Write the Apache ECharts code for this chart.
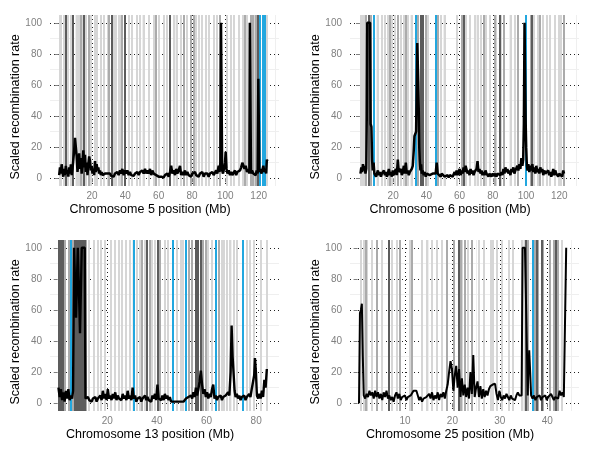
<!DOCTYPE html>
<html>
<head>
<meta charset="utf-8">
<script src="https://cdn.jsdelivr.net/npm/echarts@6/dist/echarts.min.js"></script>
<style>
  html, body { margin: 0; padding: 0; background: #fff; }
  #chart { width: 600px; height: 450px; }
</style>
</head>
<body>
<div id="chart"></div>
<script>
const rateTicks = [0, 20, 40, 60, 80, 100];
const rateMinor = [10, 30, 50, 70, 90];
const yTitle = 'Scaled recombination rate';

// chromosome 5
const chr5Ticks = [20, 40, 60, 80, 100, 120];
const chr5Rate = [
  [0.3, 2], [0.8, 7], [1.3, 3], [1.8, 9], [2.3, 4], [2.8, 1], [3.3, 6], [3.8, 2], [4.3, 8], [4.8, 3],
  [5.3, 5], [5.8, 1], [6.3, 7], [6.8, 3], [7.3, 9], [7.8, 2], [8.3, 6], [8.8, 12], [9.3, 18], [9.8, 26],
  [10.3, 25], [10.8, 14], [11.3, 4], [11.8, 10], [12.3, 16], [12.8, 6], [13.3, 13], [13.8, 3], [14.3, 9], [14.8, 18],
  [15.3, 7], [15.8, 15], [16.3, 4], [16.8, 10], [17.3, 2], [17.8, 9], [18.3, 14], [18.8, 11], [19.3, 5], [19.8, 8],
  [20.3, 3], [20.8, 6], [21.3, 2], [21.8, 11], [22.3, 4], [22.8, 9], [23.3, 5], [23.8, 7], [24.3, 3], [24.8, 5],
  [25.3, 2], [25.8, 4], [26.3, 2], [26.8, 3], [27.3, 1], [27.8, 3], [28.5, 2], [29.2, 3], [30, 2], [30.8, 3],
  [31.5, 1.5], [32.2, 2.5], [33, 1], [33.8, 3], [34.5, 2], [35.2, 4], [36, 2], [36.8, 5], [37.5, 3], [38.2, 6],
  [39, 2], [39.8, 5], [40.5, 3], [41.2, 5], [42, 2], [42.8, 4], [43.5, 2], [44.2, 3], [45, 1.5], [45.8, 3],
  [46.5, 2], [47.2, 4], [48, 2], [48.8, 4], [49.5, 3], [50.2, 5], [51, 3], [51.8, 6], [52.5, 3], [53.2, 5],
  [54, 3], [54.8, 6], [55.5, 2], [56.2, 5], [57, 3], [57.8, 4], [58.5, 2], [59.2, 3], [60, 1], [60.8, 2],
  [61.5, 1], [62.2, 2], [63, 0.5], [63.8, 2], [64.5, 1], [65.2, 3], [66, 1], [66.8, 4], [67.5, 8], [68.2, 3],
  [69, 5], [69.8, 2], [70.5, 6], [71.2, 3], [72, 5], [72.8, 8], [73.5, 2], [74.2, 4], [75, 2], [75.8, 5],
  [76.5, 2], [77.2, 4], [78, 2], [78.8, 3], [79.5, 1], [80.2, 3], [81, 2], [81.8, 4], [82.5, 2], [83.2, 3],
  [84, 1], [84.8, 3], [85.5, 2], [86.2, 4], [87, 1], [87.8, 3], [88.5, 2], [89.2, 3], [90, 1], [90.8, 3],
  [91.5, 2], [92.2, 4], [93, 2], [93.8, 3], [94.5, 5], [95.2, 3], [96, 8], [96.5, 4], [97, 10], [97.4, 100],
  [97.8, 100], [98.1, 5], [98.6, 3], [99.2, 6], [99.8, 10], [100.2, 17], [100.7, 6], [101.3, 3], [102, 5], [102.8, 2],
  [103.5, 4], [104.2, 2], [105, 3], [105.8, 5], [106.5, 2], [107.2, 4], [108, 3], [108.8, 5], [109.5, 7], [110.2, 10],
  [110.8, 9], [111.5, 6], [112.2, 8], [113, 4], [113.8, 6], [114.4, 3], [114.7, 100], [115.1, 100], [115.4, 3], [116, 5],
  [116.8, 3], [117.5, 4], [118.2, 2], [118.8, 5], [119.4, 3], [119.8, 64], [120.1, 64], [120.4, 4], [121, 6], [121.6, 3],
  [122.2, 5], [122.8, 8], [123.4, 4], [124, 6], [124.5, 3], [124.9, 12], [125.2, 11]
];
const chr5Light = [0.5, 1.5, 2.8, 5.5, 7, 11, 12, 13, 14, 16, 19, 21.5, 23, 25.5, 27, 29.5, 33, 34.5, 36, 37.5,
  42, 44, 47, 48.5, 51, 54, 57, 60, 63, 65, 69, 71, 73, 77, 82, 84, 86, 88, 90, 93, 95, 101, 103, 105, 108,
  110.5, 113, 117, 118, 125];
const chr5Mid = [4.5, 13.5, 17.8, 30, 38, 58, 75, 79.5, 81, 96.5, 111.5, 115.5, 116.5, 118.5];
const chr5Dark = [4, 8.4, 14.8, 31.8, 39.8, 66.8, 119.5];
const chr5Blue = [120.4, 122.3, 123.8];

// chromosome 6
const chr6Ticks = [20, 40, 60, 80, 100, 120];
const chr6Rate = [
  [0.3, 3], [0.8, 7], [1.3, 4], [1.8, 9], [2.3, 5], [2.8, 8], [3.3, 3], [3.8, 6], [4.1, 40], [4.4, 100],
  [5, 100], [5.6, 100], [6.1, 100], [6.4, 35], [6.9, 33], [7.3, 12], [7.7, 5], [8.2, 10], [8.7, 3], [9.2, 4],
  [9.7, 1], [10.2, 3], [10.8, 5], [11.4, 2], [12, 4], [12.6, 1], [13.2, 3], [13.8, 2], [14.4, 5], [15, 2],
  [15.6, 4], [16.2, 1], [16.8, 3], [17.4, 6], [18, 2], [18.6, 4], [19.2, 1], [19.8, 5], [20.4, 2], [21, 3],
  [21.6, 6], [22.2, 2], [22.8, 12], [23.4, 4], [24, 3], [24.6, 6], [25.2, 2], [25.8, 4], [26.4, 8], [27, 3],
  [27.6, 10], [28.2, 3], [28.8, 5], [29.4, 2], [30, 4], [30.6, 3], [31.2, 6], [31.8, 8], [32.4, 18], [32.8, 27],
  [33.3, 28], [33.8, 30], [34.2, 60], [34.5, 87], [34.8, 86], [35.1, 62], [35.4, 45], [35.7, 20], [36, 12], [36.4, 5],
  [36.8, 9], [37.2, 3], [37.8, 5], [38.4, 2], [39, 4], [39.6, 1], [40.2, 3], [40.8, 2], [41.4, 4], [42, 2],
  [42.6, 3], [43.2, 1], [43.8, 3], [44.4, 2], [45, 4], [45.6, 3], [46.2, 10], [46.8, 3], [47.4, 2], [48, 4],
  [48.6, 1], [49.2, 3], [49.8, 2], [50.4, 2], [51, 1], [51.6, 2], [52.2, 1], [52.8, 2], [53.4, 0.5], [54, 2],
  [54.6, 1], [55.2, 3], [55.8, 1], [56.4, 2], [57, 4], [57.6, 2], [58.2, 5], [58.8, 2], [59.4, 4], [60, 6],
  [60.6, 2], [61.2, 5], [61.8, 3], [62.4, 7], [63, 4], [63.6, 8], [64.2, 7], [64.8, 3], [65.4, 5], [66, 2],
  [66.6, 6], [67.2, 3], [67.8, 5], [68.4, 2], [69, 4], [69.6, 3], [70.2, 6], [70.8, 11], [71.4, 4], [72, 6],
  [72.6, 3], [73.2, 5], [73.8, 2], [74.4, 4], [75, 2], [75.6, 5], [76.2, 3], [76.8, 2], [77.4, 1], [78, 3],
  [78.6, 2], [79.2, 1], [79.8, 3], [80.4, 2], [81, 1.5], [81.6, 3], [82.2, 1], [82.8, 3], [83.4, 2], [84, 4],
  [84.6, 2], [85.2, 4], [85.8, 2], [86.4, 6], [87, 3], [87.6, 7], [88.2, 4], [88.8, 6], [89.4, 3], [90, 5],
  [90.6, 2], [91.2, 6], [91.8, 4], [92.4, 7], [93, 3], [93.6, 5], [94.2, 4], [94.8, 8], [95.4, 5], [96, 9],
  [96.6, 6], [97.2, 13], [97.8, 8], [98.3, 12], [98.7, 35], [99.1, 100], [99.5, 100], [99.8, 35], [100.1, 20], [100.5, 8],
  [100.9, 5], [101.4, 9], [102, 4], [102.6, 8], [103.2, 5], [103.8, 9], [104.4, 4], [105, 7], [105.6, 3], [106.2, 8],
  [106.8, 4], [107.4, 6], [108, 3], [108.6, 7], [109.2, 4], [109.8, 6], [110.4, 2], [111, 5], [111.6, 3], [112.2, 4],
  [112.8, 2], [113.4, 5], [114, 2], [114.6, 4], [115.2, 1], [115.8, 3], [116.4, 6], [117, 2], [117.6, 5], [118.2, 3],
  [118.8, 4], [119.4, 1], [120, 3], [120.6, 2], [121.2, 4], [121.8, 1], [122.4, 5], [122.9, 3]
];
const chr6Light = [0.5, 1.5, 2.5, 11, 13, 15, 16.5, 19, 21, 24.5, 26.5, 28.5, 31, 41, 48.5, 51, 58, 63.5, 66,
  69, 71, 73, 76, 78, 82, 85, 91, 93, 104.5, 107, 110, 112.5, 114, 117, 119.5, 121];
const chr6Mid = [3.5, 6.5, 18, 22.5, 27.5, 35, 39.5, 47, 61, 74.5, 81, 86.4, 95, 103, 108.5, 122.5];
const chr6Dark = [5, 36.5, 37.5, 38, 62.5, 84, 103.5];
const chr6Blue = [8.5, 33.5, 45.8, 100.1];

// chromosome 13
const chr13Ticks = [20, 40, 60, 80];
const chr13Rate = [
  [0.3, 10], [0.8, 4], [1.3, 9], [1.8, 2], [2.3, 7], [2.8, 1], [3.3, 8], [3.8, 3], [4.3, 9], [4.8, 2],
  [5.3, 5], [5.8, 3], [6.2, 8], [6.6, 100], [7.1, 100], [7.4, 55], [7.8, 55], [8.1, 100], [8.7, 100], [9, 45],
  [9.4, 45], [9.7, 100], [10.3, 100], [10.9, 100], [11.2, 3], [11.7, 2], [12.2, 4], [12.7, 2], [13.2, 3], [13.7, 1],
  [14.2, 3], [14.7, 2], [15.2, 4], [15.7, 1], [16.2, 3], [16.7, 2], [17.2, 5], [17.7, 2], [18.2, 8], [18.7, 3],
  [19.2, 6], [19.7, 2], [20.2, 9], [20.7, 3], [21.2, 5], [21.7, 2], [22.2, 6], [22.7, 3], [23.2, 7], [23.7, 2],
  [24.2, 5], [24.7, 3], [25.2, 4], [25.7, 2], [26.2, 6], [26.7, 3], [27.2, 5], [27.7, 2], [28.2, 8], [28.7, 3],
  [29.2, 5], [29.7, 2], [30.2, 10], [30.7, 3], [31.2, 5], [31.7, 1], [32.2, 3], [32.7, 2], [33.2, 4], [33.7, 1],
  [34.2, 3], [34.7, 2], [35.2, 5], [35.7, 2], [36.2, 4], [36.7, 2], [37.2, 3], [37.7, 1], [38.2, 5], [38.7, 3],
  [39.2, 6], [39.7, 2], [40.2, 12], [40.7, 3], [41.2, 4], [41.7, 2], [42.2, 5], [42.7, 2], [43.2, 6], [43.7, 3],
  [44.2, 5], [44.7, 2], [45.2, 4], [45.7, 1], [46.2, 2], [46.7, 1], [47.2, 2], [47.7, 1], [48.2, 1.5], [48.7, 1],
  [49.2, 2], [49.7, 1], [50.2, 2], [50.7, 1], [51.2, 2], [51.7, 3], [52.2, 2], [52.7, 4], [53.2, 3], [53.7, 5],
  [54.2, 3], [54.7, 7], [55.2, 4], [55.7, 10], [56.2, 5], [56.7, 9], [57.2, 14], [57.7, 21], [58.2, 12], [58.7, 6],
  [59.2, 9], [59.7, 4], [60.2, 7], [60.7, 3], [61.2, 6], [61.7, 4], [62.2, 9], [62.7, 12], [63.2, 3], [63.7, 5],
  [64.2, 2], [64.7, 4], [65.2, 3], [65.7, 5], [66.2, 2], [66.7, 4], [67.2, 3], [67.7, 5], [68.2, 4], [68.7, 7],
  [69.2, 5], [69.7, 20], [70.1, 50], [70.5, 30], [70.9, 29], [71.3, 8], [71.7, 4], [72.2, 6], [72.7, 3], [73.2, 5],
  [73.7, 2], [74.2, 4], [74.7, 3], [75.2, 5], [75.7, 2], [76.2, 4], [76.7, 3], [77.2, 6], [77.7, 4], [78.2, 9],
  [78.7, 8], [79.2, 18], [79.5, 29], [79.9, 20], [80.3, 5], [80.8, 3], [81.3, 6], [81.8, 3], [82.3, 8], [82.8, 4],
  [83.3, 15], [83.8, 10], [84.3, 22]
];
const chr13Light = [12.5, 14.5, 16, 17.5, 19, 21.5, 23, 24.5, 26, 27.5, 29, 32, 33, 35, 38, 39, 43, 44.5, 48,
  49.5, 50.5, 60.5, 62, 66, 67, 68, 69.5, 71, 72, 76, 77.5, 79, 82, 84.3];
const chr13Mid = [0.3, 1.8, 3, 4.5, 6, 11.5, 34, 37, 41, 53, 54, 58.5, 59.5, 65];
const chr13Dark = [0.6, 1.2, 2.2, 7, 7.5, 8, 8.5, 9, 9.5, 10, 10.5, 11, 36, 40.3, 55.5, 56.5, 57.5];
const chr13Blue = [5.3, 30.5, 46.4, 51.6, 63.7, 74.5];

// chromosome 25
const chr25Ticks = [10, 20, 30, 40];
const chr25Rate = [
  [0.3, 0], [0.5, 58], [0.7, 60], [0.9, 64], [1.1, 30], [1.3, 5], [1.6, 3], [1.9, 6], [2.2, 4], [2.5, 8],
  [2.8, 5], [3.1, 7], [3.4, 3], [3.7, 8], [4, 4], [4.3, 7], [4.6, 3], [4.9, 6], [5.2, 2], [5.5, 7],
  [5.8, 4], [6.1, 8], [6.4, 3], [6.7, 5], [7, 2], [7.3, 4], [7.6, 1], [7.9, 5], [8.2, 7], [8.5, 3],
  [8.8, 6], [9.1, 2], [9.4, 4], [9.7, 3], [10, 5], [10.3, 2], [10.6, 4], [10.9, 3], [11.2, 5], [11.5, 6],
  [11.8, 8], [12.1, 9], [12.4, 8], [12.7, 5], [13, 2], [13.3, 4], [13.6, 1], [13.9, 3], [14.2, 2], [14.5, 4],
  [14.8, 3], [15.1, 6], [15.4, 3], [15.7, 7], [16, 2], [16.3, 5], [16.6, 3], [16.9, 7], [17.2, 2], [17.5, 6],
  [17.8, 4], [18.1, 7], [18.4, 3], [18.7, 8], [19, 12], [19.3, 20], [19.6, 27], [19.9, 22], [20.2, 8], [20.5, 18],
  [20.8, 24], [21.1, 10], [21.4, 22], [21.7, 4], [22, 16], [22.3, 5], [22.6, 12], [22.9, 4], [23.2, 10], [23.5, 3],
  [23.8, 20], [24.1, 6], [24.4, 31], [24.7, 4], [25, 10], [25.3, 14], [25.6, 4], [25.9, 11], [26.2, 3], [26.5, 9],
  [26.8, 4], [27.1, 8], [27.4, 5], [27.7, 9], [28, 11], [28.5, 12], [29, 12.5], [29.3, 6], [29.6, 2], [29.9, 8],
  [30.2, 4], [30.5, 2], [30.8, 5], [31.1, 3], [31.4, 6], [31.7, 4], [32, 2], [32.3, 5], [32.6, 3], [32.9, 4],
  [33.2, 2], [33.5, 5], [33.8, 7], [34.1, 5], [34.6, 5], [34.8, 100], [35.3, 100], [35.7, 100], [35.9, 5], [36, 20],
  [36.2, 34], [36.4, 20], [36.6, 5], [36.9, 3], [37.2, 5], [37.5, 2], [37.8, 4], [38.1, 3], [38.4, 5], [38.7, 2],
  [39, 4], [39.3, 3], [39.6, 5], [39.9, 2], [40.2, 4], [40.5, 3], [40.8, 6], [41.1, 4], [41.4, 2], [41.7, 4],
  [42, 5], [42.3, 3], [42.6, 8], [42.9, 5], [43.2, 7], [43.5, 4], [43.8, 5], [44, 100]
];
const chr25Light = [0.6, 1.2, 1.9, 3, 5.1, 7.2, 8.2, 11.1, 13.5, 14.6, 15.6, 16.6, 17.7, 22, 23.3, 25.5, 26.6,
  28, 28.6, 29.3, 30.4, 31.8, 32.8, 34.6, 35.3, 43];
const chr25Mid = [1.8, 4, 8.9, 11.4, 18.8, 20.3, 21.8, 22.7, 24, 35.9, 37.4, 37.9, 39, 40.5, 41.3, 42.2];
const chr25Dark = [6.5, 21.3, 35.4, 37.8, 38.8, 41.8];
const chr25Blue = [36.9];

const panels = [
  { chr: 5, rate: chr5Rate, ticks: chr5Ticks, light: chr5Light, mid: chr5Mid, dark: chr5Dark, blue: chr5Blue,
    min: -5.2, max: 132.2, left: 50, top: 15, width: 2.5 },
  { chr: 6, rate: chr6Rate, ticks: chr6Ticks, light: chr6Light, mid: chr6Mid, dark: chr6Dark, blue: chr6Blue,
    min: -6, max: 131.9, left: 350, top: 15, width: 2.5 },
  { chr: 13, rate: chr13Rate, ticks: chr13Ticks, light: chr13Light, mid: chr13Mid, dark: chr13Dark, blue: chr13Blue,
    min: -3.1, max: 89.2, left: 50, top: 240, width: 2.4 },
  { chr: 25, rate: chr25Rate, ticks: chr25Ticks, light: chr25Light, mid: chr25Mid, dark: chr25Dark, blue: chr25Blue,
    min: -1.6, max: 46.7, left: 350, top: 240, width: 2 }
];

const FONT = '"Liberation Sans", Arial, sans-serif';
const LABEL_GREY = '#808080';
const dotted = { type: [1, 3], color: '#222', width: 1 };

function vlines(values, color) {
  return values.map((v) => ({ xAxis: v, lineStyle: { color: color, width: 2, type: 'solid', opacity: 1 } }));
}

function buildOption() {
  const grid = [], xAxis = [], yAxis = [], series = [], graphic = [];

  panels.forEach((p, i) => {
    grid.push({ left: p.left, top: p.top, width: 229, height: 171 });

    xAxis.push({
      gridIndex: i, type: 'value', min: p.min, max: p.max,
      axisLine: { show: false },
      axisTick: { show: true, length: 4, customValues: p.ticks, lineStyle: { color: LABEL_GREY } },
      axisLabel: { customValues: p.ticks, color: LABEL_GREY, fontSize: 10, fontFamily: FONT, margin: 5 },
      splitLine: { show: true, lineStyle: dotted }
    });
    yAxis.push({
      gridIndex: i, type: 'value', min: -5, max: 105,
      axisLine: { show: false },
      axisTick: { show: true, length: 4, customValues: rateTicks, lineStyle: { color: LABEL_GREY } },
      axisLabel: { customValues: rateTicks, color: LABEL_GREY, fontSize: 10, fontFamily: FONT, margin: 8 },
      splitLine: { show: true, lineStyle: dotted }
    });

    // faint minor grid
    const step = p.ticks[1] - p.ticks[0];
    const minorX = p.ticks.map((t) => t - step / 2).concat([p.ticks[p.ticks.length - 1] + step / 2]);
    series.push({
      type: 'line', xAxisIndex: i, yAxisIndex: i, data: [], z: 1, silent: true,
      markLine: {
        silent: true, symbol: ['none', 'none'], label: { show: false }, animation: false,
        data: rateMinor.map((v) => ({ yAxis: v })).concat(minorX.map((v) => ({ xAxis: v }))),
        lineStyle: { color: '#efefef', width: 1, type: 'solid' }
      }
    });

    // marker positions
    series.push({
      type: 'line', xAxisIndex: i, yAxisIndex: i, data: [], z: 3, silent: true,
      markLine: {
        silent: true, symbol: ['none', 'none'], label: { show: false }, animation: false,
        data: vlines(p.light, '#d6d6d6')
          .concat(vlines(p.mid, '#ababab'))
          .concat(vlines(p.dark, '#5c5c5c'))
          .concat(vlines(p.blue, '#22a7df'))
      }
    });

    series.push({
      type: 'line', name: 'Chromosome ' + p.chr, xAxisIndex: i, yAxisIndex: i,
      data: p.rate, z: 5, showSymbol: false, smooth: false,
      lineStyle: { color: '#000', width: p.width }
    });

    graphic.push({
      type: 'text', x: p.left + 100, y: p.top + 195, silent: true,
      style: { text: 'Chromosome ' + p.chr + ' position (Mb)', font: '12.5px ' + FONT, fill: '#000',
        textAlign: 'center', textVerticalAlign: 'middle', align: 'center', verticalAlign: 'middle' }
    });
    graphic.push({
      type: 'text', x: p.left - 34, y: p.top + 92, rotation: Math.PI / 2, silent: true,
      style: { text: yTitle, font: '12.5px ' + FONT, fill: '#000',
        textAlign: 'center', textVerticalAlign: 'middle', align: 'center', verticalAlign: 'middle' }
    });
  });

  return { animation: false, backgroundColor: '#fff', grid, xAxis, yAxis, series, graphic };
}

const chart = echarts.init(document.getElementById('chart'));
chart.setOption(buildOption());
</script>
</body>
</html>
